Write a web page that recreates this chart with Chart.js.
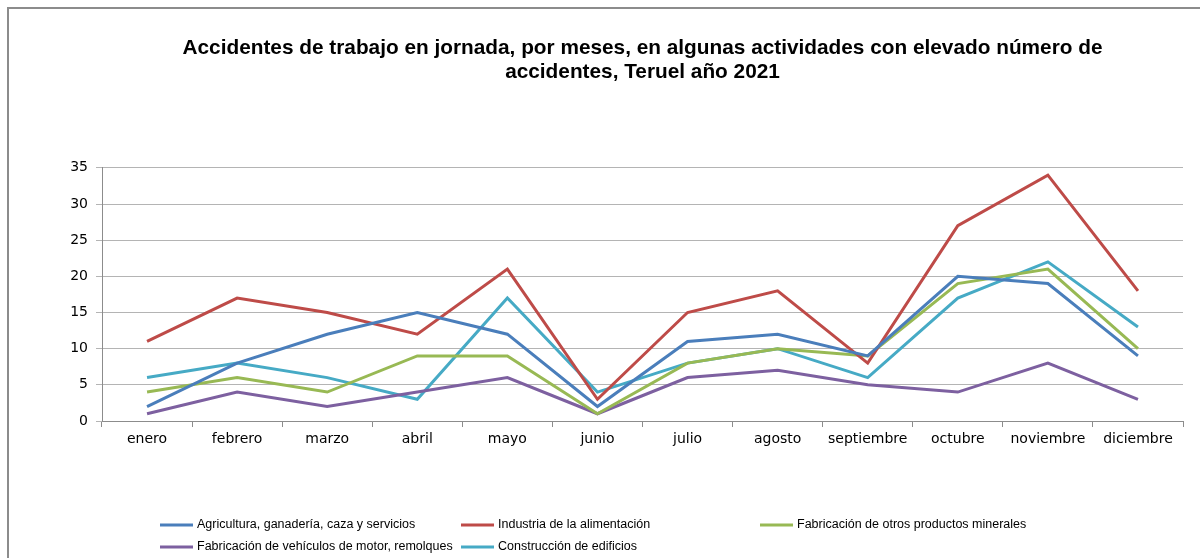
<!DOCTYPE html>
<html>
<head>
<meta charset="utf-8">
<script src="https://cdn.jsdelivr.net/npm/chart.js@4/dist/chart.umd.min.js"></script>
<style>
  html, body { margin: 0; padding: 0; background: #fff; }
  #wrap { width: 1200px; height: 558px; }
</style>
</head>
<body>
<div id="wrap"><canvas id="chart" width="1200" height="558"></canvas></div>
<script>
const meses = ['enero', 'febrero', 'marzo', 'abril', 'mayo', 'junio', 'julio', 'agosto', 'septiembre', 'octubre', 'noviembre', 'diciembre']

const agricultura = [2, 8, 12, 15, 12, 2, 11, 12, 9, 20, 19, 9]
const alimentacion = [11, 17, 15, 12, 21, 3, 15, 18, 8, 27, 34, 18]
const minerales = [4, 6, 4, 9, 9, 1, 8, 10, 9, 19, 21, 10]
const vehiculos = [1, 4, 2, 4, 6, 1, 6, 7, 5, 4, 8, 3]
const construccion = [6, 8, 6, 3, 17, 4, 8, 10, 6, 17, 22, 13]

const yTicks = [0, 5, 10, 15, 20, 25, 30, 35]

const titulo = ['Accidentes de trabajo en jornada, por meses, en algunas actividades con elevado número de', 'accidentes, Teruel año 2021']

// marco gris (izquierda y arriba) y fondo blanco
const marco = {
  id: 'marco',
  beforeDraw(chart) {
    const c = chart.ctx
    c.save()
    c.fillStyle = '#fff'
    c.fillRect(0, 0, chart.width, chart.height)
    c.strokeStyle = '#8c8c8c'
    c.lineWidth = 2
    c.beginPath()
    c.moveTo(8, chart.height)
    c.lineTo(8, 8)
    c.lineTo(chart.width, 8)
    c.stroke()
    c.restore()
  }
}

// leyenda en dos filas, como en la hoja de cálculo
const leyenda = {
  id: 'leyenda',
  afterDraw(chart) {
    const c = chart.ctx
    const pos = [[160, 525], [461, 525], [760, 525], [160, 547], [461, 547]]
    c.save()
    c.font = '12.5px "Liberation Sans", sans-serif'
    c.textBaseline = 'middle'
    chart.data.datasets.forEach((ds, i) => {
      const [x, y] = pos[i]
      c.strokeStyle = ds.borderColor
      c.lineWidth = 3
      c.beginPath()
      c.moveTo(x, y)
      c.lineTo(x + 33, y)
      c.stroke()
      c.fillStyle = '#000'
      c.fillText(ds.label, x + 37, y)
    })
    c.restore()
  }
}

function serie(label, data, color) {
  return {
    label: label,
    data: data,
    borderColor: color,
    backgroundColor: color,
    borderWidth: 3,
    pointRadius: 0,
    tension: 0,
    fill: false
  }
}

const ctx = document.getElementById('chart')
new Chart(ctx, {
  type: 'line',
  data: {
    labels: meses,
    datasets: [
      serie('Agricultura, ganadería, caza y servicios', agricultura, '#4a7ebb'),
      serie('Industria de la alimentación', alimentacion, '#be4b48'),
      serie('Fabricación de otros productos minerales', minerales, '#98b954'),
      serie('Fabricación de vehículos de motor, remolques', vehiculos, '#7d60a0'),
      serie('Construcción de edificios', construccion, '#46aac5')
    ]
  },
  options: {
    responsive: false,
    animation: false,
    layout: {
      padding: { left: 0, right: 17, top: 0, bottom: 107 }
    },
    plugins: {
      legend: { display: false },
      tooltip: { enabled: false },
      title: {
        display: true,
        fullSize: false,
        text: titulo,
        color: '#000',
        font: { family: '"Liberation Sans", Arial, sans-serif', size: 20.8, weight: 'bold', lineHeight: 1.15 },
        padding: { top: 36, bottom: 84 }
      }
    },
    scales: {
      x: {
        offset: true,
        afterFit: (scale) => { scale.height = 30 },
        grid: {
          display: true,
          offset: true,
          drawOnChartArea: false,
          drawTicks: true,
          tickLength: 6,
          color: '#8c8c8c'
        },
        border: { display: true, color: '#8c8c8c' },
        ticks: {
          color: '#000',
          padding: 4,
          maxRotation: 0,
          autoSkip: false,
          font: { family: '"DejaVu Sans", sans-serif', size: 14 }
        }
      },
      y: {
        min: 0,
        max: 35,
        afterFit: (scale) => { scale.width = 102 },
        afterBuildTicks: (scale) => { scale.ticks = yTicks.map(v => ({ value: v })) },
        grid: {
          color: '#b4b4b4',
          tickLength: 6,
          drawTicks: true
        },
        border: { display: true, color: '#8c8c8c' },
        ticks: {
          color: '#000',
          padding: 8,
          font: { family: '"DejaVu Sans", sans-serif', size: 14 }
        }
      }
    }
  },
  plugins: [marco, leyenda]
})
</script>
</body>
</html>
